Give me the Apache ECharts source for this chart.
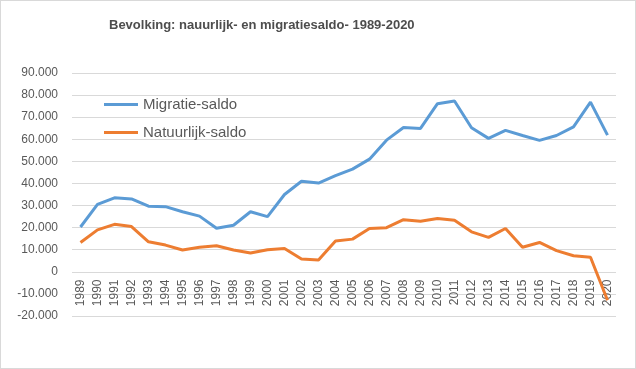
<!DOCTYPE html>
<html><head><meta charset="utf-8">
<script src="https://cdn.jsdelivr.net/npm/echarts@6/dist/echarts.min.js"></script>
<style>html,body{margin:0;padding:0;background:#fff}#c{width:636px;height:369px;box-sizing:border-box;border:1px solid #d9d9d9}</style>
</head><body><div id="c"></div>
<script>
const years = ['1989','1990','1991','1992','1993','1994','1995','1996','1997','1998','1999','2000','2001','2002','2003','2004','2005','2006','2007','2008','2009','2010','2011','2012','2013','2014','2015','2016','2017','2018','2019','2020'];
const migratie = [20300,30500,33500,33000,29700,29500,27200,25200,19700,21100,27200,25000,35000,41000,40200,43500,46500,51000,59600,65300,64900,76100,77300,65200,60400,64000,61700,59500,61700,65600,76800,61900];
const natuurlijk = [13300,19000,21500,20500,13600,12100,9900,11100,11800,9900,8500,10000,10600,5800,5400,14000,14800,19600,20000,23600,22900,24100,23300,18100,15600,19600,11100,13300,9600,7300,6600,-12900];
const yTicks = {min:-20000, max:90000, step:10000};

function fmt(v){const s=Math.abs(v).toString().replace(/\B(?=(\d{3})+(?!\d))/g,'.');return (v<0?'-':'')+s;}
const chart = echarts.init(document.getElementById('c'));
const gridTop = 72, gridBottom = 52, H = 369;
const plotH = H - gridTop - gridBottom;
const zeroOffset = plotH * (0 - yTicks.min) / (yTicks.max - yTicks.min);
chart.setOption({
  animation:false,
  title:{text:'Bevolking: nauurlijk- en migratiesaldo- 1989-2020',left:103,top:13,textStyle:{fontFamily:'Liberation Sans',fontSize:13,fontWeight:'bold',color:'#4d4d4d'}},
  legend:{orient:'vertical',left:98,top:91,itemWidth:34,itemHeight:3,itemGap:13,icon:'rect',
    textStyle:{fontFamily:'Liberation Sans',fontSize:15,color:'#595959'},
    data:[{name:'Migratie-saldo',itemStyle:{color:'#5B9BD5'}},{name:'Natuurlijk-saldo',itemStyle:{color:'#ED7D31'}}]},
  grid:{left:71,right:19,top:gridTop,bottom:gridBottom},
  xAxis:{type:'category',data:years,boundaryGap:true,
    axisLine:{onZero:false,show:false},axisTick:{show:false},offset:-zeroOffset,
    axisLabel:{rotate:90,interval:0,fontFamily:'Liberation Sans',fontSize:12,color:'#595959',margin:8}},
  yAxis:{type:'value',min:yTicks.min,max:yTicks.max,interval:yTicks.step,
    axisLine:{show:false},axisTick:{show:false},
    splitLine:{lineStyle:{color:'#d9d9d9'}},
    axisLabel:{formatter:fmt,fontFamily:'Liberation Sans',fontSize:12,color:'#595959',margin:14}},
  series:[
    {name:'Migratie-saldo',type:'line',data:migratie,symbol:'none',lineStyle:{width:3,color:'#5B9BD5'},itemStyle:{color:'#5B9BD5'}},
    {name:'Natuurlijk-saldo',type:'line',data:natuurlijk,symbol:'none',lineStyle:{width:3,color:'#ED7D31'},itemStyle:{color:'#ED7D31'}}
  ]
});
</script></body></html>
